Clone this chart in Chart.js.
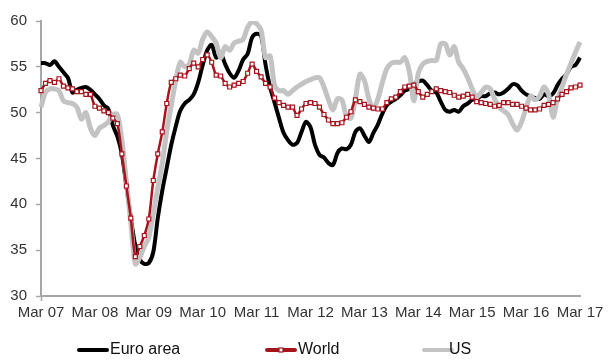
<!DOCTYPE html>
<html>
<head>
<meta charset="utf-8">
<script src="https://cdn.jsdelivr.net/npm/chart.js@4.4.0/dist/chart.umd.min.js"></script>
<style>
html, body { margin: 0; padding: 0; background: #fff; }
#wrap { width: 608px; height: 360px; }
</style>
</head>
<body>
<div id="wrap"><canvas id="pmiChart" width="608" height="360"></canvas></div>
<script>
// monthly, Mar 07 .. Mar 17
var monthNames = ["Mar","Apr","May","Jun","Jul","Aug","Sep","Oct","Nov","Dec","Jan","Feb"];
var yearStart = 7;
var nMonths = 121;

var euroArea = [
	55.4, 55.4, 55.2, 55.6, 55.0, 54.4, 53.8, 52.2, 52.5, 52.7, 52.8, 52.5,
	52.0, 51.5, 50.8, 50.4, 48.6, 47.4, 45.5, 42.0, 38.5, 35.5, 34.0, 33.5,
	33.6, 34.8, 38.5, 41.5, 44.0, 46.5, 48.5, 50.2, 51.0, 51.4, 52.0, 53.3,
	55.2, 56.8, 57.4, 56.0, 56.4, 55.3, 54.3, 53.8, 54.6, 55.8, 56.4, 58.2,
	58.6, 58.4, 55.2, 52.8, 51.1, 49.4, 47.8, 47.0, 46.5, 46.7, 47.9, 49.0,
	48.4, 46.5, 45.4, 45.1, 44.5, 44.3, 45.6, 46.1, 46.0, 46.5, 47.9, 48.3,
	47.5, 46.8, 47.8, 48.7, 49.9, 50.8, 51.2, 51.5, 51.9, 52.4, 52.6, 53.1,
	53.4, 53.5, 53.0, 52.4, 52.2, 51.2, 50.3, 50.1, 50.3, 50.1, 50.7, 51.0,
	51.4, 51.5, 51.8, 51.8, 52.1, 52.2, 52.0, 52.2, 52.6, 53.1, 53.0, 52.4,
	52.0, 51.8, 51.6, 51.5, 52.0, 51.8, 52.1, 53.0, 53.7, 54.2, 55.0, 55.2,
	56.0
];

var world = [
	52.4, 53.2, 53.5, 53.3, 53.7, 52.9, 52.7, 52.6, 52.3, 52.3, 52.0, 52.0,
	50.7, 50.5, 50.2, 50.0, 49.4, 48.8, 45.5, 42.0, 38.5, 34.3, 35.4, 36.6,
	38.4, 42.6, 45.5, 47.9, 51.0, 53.3, 53.7, 54.1, 54.0, 54.8, 55.4, 55.0,
	55.8, 56.3, 55.5, 54.1, 54.0, 53.2, 52.8, 53.0, 53.2, 53.4, 54.3, 55.3,
	54.5, 53.9, 53.2, 52.8, 51.6, 51.1, 50.8, 50.6, 50.6, 49.7, 50.4, 51.0,
	51.1, 51.0, 50.6, 49.8, 49.2, 48.8, 48.8, 48.9, 49.5, 50.1, 51.4, 51.2,
	50.9, 50.6, 50.5, 50.4, 50.4, 51.1, 51.5, 51.7, 52.3, 52.8, 52.9, 53.0,
	52.3, 51.7, 52.0, 52.3, 52.6, 52.4, 52.3, 52.2, 51.9, 51.7, 51.8, 52.0,
	51.7, 51.2, 51.1, 51.0, 50.9, 50.7, 50.8, 51.1, 51.1, 50.9, 50.9, 50.7,
	50.5, 50.3, 50.3, 50.4, 50.8, 50.9, 51.1, 51.5, 52.0, 52.3, 52.7, 52.8,
	53.0
];

var us = [
	50.6, 52.2, 52.6, 52.6, 52.4, 51.3, 51.1, 51.0, 50.6, 49.3, 50.0, 48.3,
	47.5, 48.3, 48.6, 49.0, 49.8, 49.8, 47.0, 42.5, 38.0, 33.5, 34.2, 35.4,
	36.4, 39.0, 41.8, 44.5, 48.0, 50.8, 53.5, 55.5, 55.0, 55.3, 56.8, 56.5,
	58.0, 58.8, 58.3, 57.6, 56.0, 57.2, 56.8, 57.6, 57.8, 58.0, 59.3, 59.9,
	59.7, 59.0, 56.0, 56.2, 53.0, 52.4, 52.4, 52.0, 52.4, 52.8, 53.1, 53.4,
	53.6, 53.8, 53.8, 52.8, 51.4, 50.3, 51.5, 51.4, 49.6, 49.4, 51.5, 54.2,
	53.5, 51.5, 50.4, 51.5, 53.3, 54.8, 55.4, 55.5, 55.5, 56.0, 54.5, 51.3,
	54.3, 55.3, 55.6, 55.7, 55.7, 57.5, 57.5, 56.3, 57.2, 55.5, 54.8, 53.8,
	52.6, 51.7, 52.2, 52.8, 52.6, 51.5, 50.6, 50.2, 49.8, 48.8, 48.1, 49.0,
	50.5, 51.8, 51.4, 51.8, 52.8, 52.0, 49.5, 51.5, 52.8, 54.2, 55.4, 56.6,
	57.7
];

var seriesNames = ["Euro area", "World", "US"];
var yTicks = [30, 35, 40, 45, 50, 55, 60];

var labels = [];
for (var i = 0; i < nMonths; i++) {
	var yr = yearStart + Math.floor((i + 2) / 12);
	labels.push(monthNames[i % 12] + " " + (yr < 10 ? "0" + yr : yr));
}

var axisGrey = "#a6a6a6";
var fontFam = '"Liberation Sans", Arial, sans-serif';

// legend drawn by hand so the wide spacing of the original can be kept
var legendSpots = [{x: 79, tx: 110}, {x: 267, tx: 298}, {x: 424, tx: 449}];
var legendLine = {
	id: "legendLine",
	afterDraw: function (chart) {
		var ctx = chart.ctx, y = 350;
		chart.data.datasets.forEach(function (ds, i) {
			var p = legendSpots[i];
			ctx.save();
			ctx.strokeStyle = ds.borderColor;
			ctx.lineWidth = 4;
			ctx.lineCap = "round";
			ctx.beginPath();
			ctx.moveTo(p.x, y);
			ctx.lineTo(p.x + 28, y);
			ctx.stroke();
			if (ds.pointRadius) {
				ctx.fillStyle = "#fff";
				ctx.lineWidth = 1.2;
				ctx.fillRect(p.x + 12, y - 2, 4, 4);
				ctx.strokeRect(p.x + 12, y - 2, 4, 4);
			}
			ctx.fillStyle = "#111";
			ctx.font = "16px " + fontFam;
			ctx.textBaseline = "middle";
			ctx.textAlign = "left";
			ctx.fillText(ds.label, p.tx, y);
			ctx.restore();
		});
	}
};

var ctx = document.getElementById("pmiChart").getContext("2d");
var pmiChart = new Chart(ctx, {
	type: "line",
	data: {
		labels: labels,
		datasets: [
			{
				label: seriesNames[0],
				data: euroArea,
				borderColor: "#000000",
				borderWidth: 4,
				pointRadius: 0,
				tension: 0.3,
				order: 2
			},
			{
				label: seriesNames[1],
				data: world,
				borderColor: "#a8141e",
				borderWidth: 2.5,
				pointStyle: "rect",
				pointRadius: 2.8,
				pointBorderWidth: 1.2,
				pointBackgroundColor: "#ffffff",
				pointBorderColor: "#a8141e",
				tension: 0.3,
				order: 0
			},
			{
				label: seriesNames[2],
				data: us,
				borderColor: "#c3c3c3",
				borderWidth: 5,
				pointRadius: 0,
				tension: 0.3,
				order: 1
			}
		]
	},
	options: {
		responsive: false,
		animation: false,
		layout: { padding: { left: 0, right: 28, top: 21, bottom: 0 } },
		plugins: {
			legend: { display: false },
			tooltip: { enabled: false }
		},
		scales: {
			x: {
				type: "category",
				offset: false,
				afterFit: function (scale) { scale.height = 64; },
				border: { color: axisGrey, width: 2 },
				grid: {
					drawOnChartArea: false,
					tickLength: 5,
					tickWidth: 1.5,
					tickColor: function (c) { return c.index % 12 === 0 ? axisGrey : "rgba(0,0,0,0)"; }
				},
				ticks: {
					autoSkip: false,
					maxRotation: 0,
					padding: 3,
					color: "#333",
					font: { family: fontFam, size: 15 },
					callback: function (v, idx) { return idx % 12 === 0 ? this.getLabelForValue(v) : null; }
				}
			},
			y: {
				min: yTicks[0],
				max: yTicks[yTicks.length - 1],
				afterFit: function (scale) { scale.width = 41; },
				border: { color: axisGrey, width: 2 },
				grid: {
					drawOnChartArea: false,
					tickLength: 5,
					tickWidth: 1.5,
					color: axisGrey
				},
				ticks: {
					stepSize: 5,
					padding: 9,
					color: "#333",
					font: { family: fontFam, size: 15 }
				}
			}
		}
	},
	plugins: [legendLine]
});
</script>
</body>
</html>
